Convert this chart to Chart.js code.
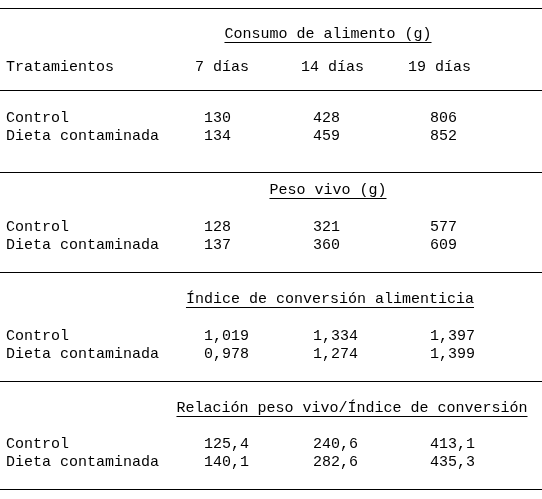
<!DOCTYPE html>
<html><head><meta charset="utf-8">
<script src="https://cdn.jsdelivr.net/npm/chart.js@4"></script>
<style>html,body{margin:0;padding:0;background:#fff}#w{width:542px;height:499px}</style>
</head><body><div id="w"><canvas id="c"></canvas></div>
<script>
const treatments = ["Control", "Dieta contaminada"];
const periods = ["7 días", "14 días", "19 días"];
const sections = ["Consumo de alimento (g)", "Peso vivo (g)", "Índice de conversión alimenticia", "Relación peso vivo/Índice de conversión"];
const consumoControl = ["130", "428", "806"];
const consumoDieta = ["134", "459", "852"];
const pesoControl = ["128", "321", "577"];
const pesoDieta = ["137", "360", "609"];
const indiceControl = ["1,019", "1,334", "1,397"];
const indiceDieta = ["0,978", "1,274", "1,399"];
const relacionControl = ["125,4", "240,6", "413,1"];
const relacionDieta = ["140,1", "282,6", "435,3"];
const sectionValues = [[consumoControl, consumoDieta],[pesoControl, pesoDieta],[indiceControl, indiceDieta],[relacionControl, relacionDieta]];

const FONT = '15px "Liberation Mono", "Courier New", monospace';
const colX = [204, 313, 430];
const headX = [195, 301, 408];
const titleX = [328, 328, 330, 352];
const titleY = [34, 190, 299, 408];
const rowY = [[118,136],[227,245],[336,354],[444,462]];
const ruleY = [8, 90, 172, 272, 381, 489];

const tablePlugin = {
  id: 'table',
  afterDraw(chart) {
    const {ctx, scales:{x, y}} = chart;
    ctx.save();
    ctx.fillStyle = '#000'; ctx.strokeStyle = '#000'; ctx.lineWidth = 1;
    ctx.font = FONT; ctx.textBaseline = 'middle';
    ruleY.forEach(v => { const py = Math.round(y.getPixelForValue(v)) + 0.5;
      ctx.beginPath(); ctx.moveTo(x.getPixelForValue(0), py); ctx.lineTo(x.getPixelForValue(542), py); ctx.stroke(); });
    ctx.textAlign = 'left';
    ctx.fillText("Tratamientos", x.getPixelForValue(6), y.getPixelForValue(67));
    periods.forEach((p,i) => ctx.fillText(p, x.getPixelForValue(headX[i]), y.getPixelForValue(67)));
    sections.forEach((s,si) => {
      ctx.textAlign = 'center';
      const cx = x.getPixelForValue(titleX[si]), cy = y.getPixelForValue(titleY[si]);
      ctx.fillText(s, cx, cy);
      const w = ctx.measureText(s).width;
      const uy = Math.round(cy + 8) + 0.5;
      ctx.beginPath(); ctx.moveTo(cx - w/2, uy); ctx.lineTo(cx + w/2, uy); ctx.stroke();
      ctx.textAlign = 'left';
      treatments.forEach((t,ti) => {
        const py = y.getPixelForValue(rowY[si][ti]);
        ctx.fillText(t, x.getPixelForValue(6), py);
        sectionValues[si][ti].forEach((v,ci) => ctx.fillText(v, x.getPixelForValue(colX[ci]), py));
      });
    });
    ctx.restore();
  }
};

new Chart(document.getElementById('c'), {
  type: 'scatter',
  data: { datasets: [{ data: [] }] },
  options: {
    responsive: true, maintainAspectRatio: false, animation: false,
    layout: { padding: 0 },
    plugins: { legend: { display: false }, tooltip: { enabled: false } },
    scales: {
      x: { type: 'linear', min: 0, max: 542, display: false },
      y: { type: 'linear', min: 0, max: 499, reverse: true, display: false }
    }
  },
  plugins: [tablePlugin]
});
</script></body></html>
